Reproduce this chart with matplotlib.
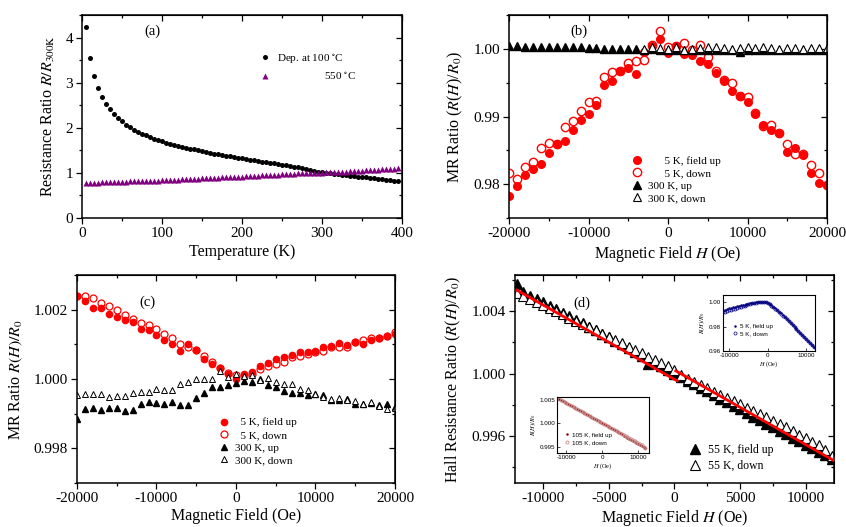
import numpy as np
import matplotlib
matplotlib.use('Agg')
import matplotlib.pyplot as plt
from matplotlib.ticker import MultipleLocator, FormatStrFormatter, NullFormatter

plt.rcParams['font.family'] = ['Liberation Serif', 'DejaVu Serif']
plt.rcParams['mathtext.fontset'] = 'stix'
plt.rcParams['axes.unicode_minus'] = False

# ---- (a) R(T)/R(300K) ----
T = np.arange(5, 400, 5)
R_100C = [4.23, 3.55, 3.15, 2.88, 2.68, 2.53, 2.41, 2.30, 2.22, 2.14,
          2.07, 2.01, 1.96, 1.91, 1.87, 1.83, 1.79, 1.76, 1.73, 1.70,
          1.67, 1.65, 1.62, 1.60, 1.58, 1.56, 1.54, 1.52, 1.50, 1.48,
          1.46, 1.45, 1.43, 1.41, 1.40, 1.38, 1.37, 1.35, 1.34, 1.32,
          1.31, 1.29, 1.28, 1.27, 1.25, 1.24, 1.22, 1.21, 1.20, 1.18,
          1.17, 1.15, 1.14, 1.12, 1.11, 1.09, 1.07, 1.05, 1.03, 1.01,
          1.00, 0.99, 0.98, 0.97, 0.96, 0.95, 0.94, 0.93, 0.92, 0.91,
          0.90, 0.89, 0.88, 0.87, 0.86, 0.85, 0.84, 0.83, 0.81]
R_550C = [0.78, 0.78, 0.78, 0.78, 0.79, 0.79, 0.79, 0.79, 0.80, 0.80,
          0.80, 0.81, 0.81, 0.81, 0.82, 0.82, 0.82, 0.83, 0.83, 0.84,
          0.84, 0.84, 0.85, 0.85, 0.86, 0.86, 0.86, 0.87, 0.87, 0.88,
          0.88, 0.89, 0.89, 0.89, 0.90, 0.90, 0.91, 0.91, 0.92, 0.92,
          0.93, 0.93, 0.94, 0.94, 0.95, 0.95, 0.95, 0.96, 0.96, 0.97,
          0.97, 0.98, 0.98, 0.99, 0.99, 0.99, 1.00, 1.00, 1.00, 1.00,
          1.01, 1.01, 1.02, 1.02, 1.03, 1.03, 1.04, 1.04, 1.05, 1.05,
          1.06, 1.06, 1.07, 1.07, 1.08, 1.08, 1.09, 1.09, 1.10]

# ---- (b) MR, 100 C film ----
Hb = np.arange(-20000, 20001, 1000)
b_5K_up = [0.9783, 0.9797, 0.9814, 0.9823, 0.9830, 0.9846, 0.9860, 0.9864, 0.9880, 0.9895,
           0.9904, 0.9917, 0.9946, 0.9953, 0.9968, 0.9972, 0.9963, 0.9995, 1.0004, 1.0015,
           0.9994, 1.0004, 0.9992, 0.9991, 0.9982, 0.9977, 0.9964, 0.9952, 0.9938, 0.9930,
           0.9921, 0.9904, 0.9887, 0.9880, 0.9875, 0.9847, 0.9853, 0.9843, 0.9816, 0.9802, 0.9799]
b_5K_down = [0.9816, 0.9808, 0.9825, 0.9833, 0.9853, 0.9861, 0.9860, 0.9884, 0.9894, 0.9908,
             0.9921, 0.9923, 0.9959, 0.9966, 0.9968, 0.9979, 0.9982, 0.9983, 1.0005, 1.0026,
             1.0003, 1.0004, 1.0008, 0.9998, 1.0006, 0.9988, 0.9968, 0.9954, 0.9949, 0.9930,
             0.9929, 0.9905, 0.9886, 0.9887, 0.9876, 0.9859, 0.9844, 0.9844, 0.9829, 0.9817, 0.9799]
b_300K_up = [1.0004, 1.0004, 1.0003, 1.0003, 1.0002, 1.0003, 1.0003, 1.0002, 1.0002, 1.0002,
             1.0001, 1.0001, 1.0000, 1.0000, 1.0000, 1.0000, 1.0000, 0.9999, 1.0000, 0.9999,
             0.9999, 0.9999, 0.9998, 0.9998, 0.9998, 0.9998, 0.9999, 0.9998, 0.9998, 0.9995,
             0.9998, 0.9998, 0.9998, 0.9999, 0.9998, 0.9998, 0.9998, 0.9998, 0.9998, 0.9998, 0.9999]
Hb_down300 = np.arange(-3000, 20001, 1000)
b_300K_down = [1.0000, 1.0003, 1.0001, 1.0000, 1.0002, 0.9999, 1.0000, 1.0001, 1.0003, 1.0002,
               1.0001, 1.0000, 1.0001, 1.0002, 1.0001, 1.0002, 1.0001, 1.0000, 1.0001, 1.0001,
               1.0000, 1.0001, 1.0001, 1.0001]

# ---- (c) MR, 550 C film ----
Hc = np.arange(-20000, 20001, 1000)
c_5K_up = [1.00239, 1.00224, 1.00205, 1.00206, 1.00187, 1.00179, 1.00171, 1.00164, 1.00143, 1.00141,
           1.00127, 1.00113, 1.00102, 1.00080, 1.00100, 1.00083, 1.00057, 1.00044, 1.00032, 1.00013,
           0.99999, 1.00013, 1.00020, 1.00037, 1.00047, 1.00057, 1.00064, 1.00069, 1.00077, 1.00077,
           1.00080, 1.00091, 1.00096, 1.00103, 1.00099, 1.00108, 1.00101, 1.00113, 1.00119, 1.00125, 1.00131]
c_5K_down = [1.00239, 1.00239, 1.00234, 1.00220, 1.00211, 1.00199, 1.00186, 1.00173, 1.00162, 1.00156,
             1.00145, 1.00131, 1.00119, 1.00101, 1.00093, 1.00085, 1.00067, 1.00050, 1.00032, 1.00018,
             1.00011, 1.00008, 1.00013, 1.00028, 1.00037, 1.00042, 1.00049, 1.00062, 1.00066, 1.00072,
             1.00078, 1.00082, 1.00093, 1.00093, 1.00093, 1.00107, 1.00113, 1.00117, 1.00119, 1.00125, 1.00135]
c_300K_up = [0.99885, 0.99913, 0.99915, 0.99910, 0.99916, 0.99915, 0.99908, 0.99910, 0.99927, 0.99934,
             0.99931, 0.99927, 0.99934, 0.99924, 0.99926, 0.99944, 0.99959, 0.99976, 0.99978, 0.99983,
             0.99988, 0.99993, 0.99990, 1.00000, 0.99982, 0.99976, 0.99964, 0.99961, 0.99961, 0.99954,
             0.99956, 0.99954, 0.99939, 0.99939, 0.99941, 0.99927, 0.99927, 0.99931, 0.99924, 0.99927, 0.99919]
c_300K_down = [0.99954, 0.99956, 0.99956, 0.99956, 0.99949, 0.99951, 0.99952, 0.99959, 0.99962, 0.99962,
               0.99971, 0.99969, 0.99969, 0.99986, 0.99990, 1.00000, 1.00000, 1.00000, 1.00023, 1.00006,
               1.00015, 1.00008, 1.00011, 0.99998, 1.00003, 0.99991, 0.99985, 0.99985, 0.99971, 0.99967,
               0.99956, 0.99948, 0.99942, 0.99946, 0.99939, 0.99936, 0.99929, 0.99934, 0.99922, 0.99912, 0.99917]

# ---- (d) Hall, 55 K ----
Hd = np.arange(-12000, 12001, 500)
d_55K_up = [1.00575, 1.00520, 1.00495, 1.00478, 1.00455, 1.00432, 1.00410, 1.00388, 1.00365, 1.00345,
            1.00322, 1.00300, 1.00278, 1.00255, 1.00232, 1.00210, 1.00188, 1.00165, 1.00140, 1.00115,
            1.00062, 1.00068, 1.00045, 1.00022, 1.00000, 0.99978, 0.99955, 0.99932, 0.99908, 0.99886,
            0.99862, 0.99840, 0.99815, 0.99795, 0.99770, 0.99748, 0.99725, 0.99702, 0.99680, 0.99658,
            0.99635, 0.99612, 0.99590, 0.99568, 0.99545, 0.99522, 0.99500, 0.99478, 0.99455]
d_55K_down = [1.00512, 1.00495, 1.00478, 1.00458, 1.00438, 1.00418, 1.00398, 1.00378, 1.00358, 1.00338,
              1.00318, 1.00298, 1.00276, 1.00255, 1.00235, 1.00215, 1.00195, 1.00172, 1.00150, 1.00128,
              1.00105, 1.00085, 1.00065, 1.00045, 1.00020, 0.99990, 0.99968, 0.99948, 0.99928, 0.99908,
              0.99885, 0.99865, 0.99845, 0.99825, 0.99805, 0.99782, 0.99762, 0.99740, 0.99720, 0.99698,
              0.99675, 0.99655, 0.99632, 0.99610, 0.99590, 0.99565, 0.99540, 0.99512, 0.99470]
fit1_H = [-12000, 200]
fit1_R = [1.00533, 0.99953]
fit2_H = [100, 12100]
fit2_R = [1.00017, 0.99445]

# inset: 5 K Hall
Hi1 = np.arange(-11500, 12001, 500)
i1_up = [0.9935, 0.9940, 0.9945, 0.9950, 0.9955, 0.9958, 0.9962, 0.9966, 0.9970, 0.9974,
         0.9978, 0.9981, 0.9985, 0.9988, 0.9991, 0.9994, 0.9997, 0.9999, 1.0001, 1.0002,
         1.0003, 1.0003, 1.0002, 0.9995, 0.9985, 0.9975, 0.9963, 0.9950, 0.9937, 0.9923,
         0.9908, 0.9893, 0.9878, 0.9862, 0.9846, 0.9830, 0.9814, 0.9797, 0.9781, 0.9764,
         0.9748, 0.9731, 0.9715, 0.9698, 0.9682, 0.9666, 0.9650, 0.9635]
i1_down = [0.9918, 0.9923, 0.9928, 0.9933, 0.9938, 0.9943, 0.9948, 0.9953, 0.9958, 0.9963,
           0.9968, 0.9973, 0.9977, 0.9982, 0.9986, 0.9990, 0.9994, 0.9997, 1.0000, 1.0002,
           1.0003, 1.0002, 1.0000, 0.9993, 0.9983, 0.9972, 0.9960, 0.9947, 0.9934, 0.9920,
           0.9905, 0.9890, 0.9875, 0.9859, 0.9843, 0.9827, 0.9811, 0.9795, 0.9778, 0.9762,
           0.9745, 0.9729, 0.9712, 0.9696, 0.9680, 0.9664, 0.9648, 0.9633]

# inset: 105 K Hall
Hi2 = np.arange(-12000, 12001, 500)
i2_up = [1.00530, 1.00508, 1.00486, 1.00464, 1.00442, 1.00420, 1.00398, 1.00376, 1.00354, 1.00332,
         1.00310, 1.00288, 1.00266, 1.00244, 1.00222, 1.00200, 1.00178, 1.00156, 1.00134, 1.00112,
         1.00090, 1.00068, 1.00046, 1.00024, 1.00002, 0.99980, 0.99958, 0.99936, 0.99914, 0.99892,
         0.99870, 0.99848, 0.99826, 0.99804, 0.99782, 0.99760, 0.99738, 0.99716, 0.99694, 0.99672,
         0.99650, 0.99628, 0.99606, 0.99584, 0.99562, 0.99540, 0.99518, 0.99496, 0.99474]
i2_down = [1.00520, 1.00502, 1.00482, 1.00462, 1.00443, 1.00423, 1.00402, 1.00382, 1.00361, 1.00340,
           1.00320, 1.00298, 1.00277, 1.00256, 1.00234, 1.00213, 1.00191, 1.00169, 1.00147, 1.00125,
           1.00103, 1.00081, 1.00059, 1.00037, 1.00015, 0.99993, 0.99971, 0.99948, 0.99926, 0.99904,
           0.99882, 0.99860, 0.99837, 0.99815, 0.99793, 0.99770, 0.99748, 0.99726, 0.99703, 0.99681,
           0.99658, 0.99636, 0.99613, 0.99591, 0.99568, 0.99546, 0.99523, 0.99500, 0.99478]


def style(ax, xmaj, xmin, ymaj, ymin, yfmt=None, size=11, L=4):
    ax.xaxis.set_major_locator(MultipleLocator(xmaj))
    ax.xaxis.set_minor_locator(MultipleLocator(xmin))
    ax.yaxis.set_major_locator(MultipleLocator(ymaj))
    ax.yaxis.set_minor_locator(MultipleLocator(ymin))
    if yfmt:
        ax.yaxis.set_major_formatter(FormatStrFormatter(yfmt))
    ax.tick_params(which='both', direction='out', labelsize=size, width=0.9, pad=2.5)
    ax.tick_params(which='major', length=L)
    ax.tick_params(which='minor', length=L * 0.6)
    for s in ax.spines.values():
        s.set_linewidth(1.1)
    sx = ax.secondary_xaxis('top')
    sx.xaxis.set_major_locator(MultipleLocator(xmaj))
    sx.xaxis.set_minor_locator(MultipleLocator(xmin))
    sx.xaxis.set_major_formatter(NullFormatter())
    sx.tick_params(which='both', direction='in', width=0.9)
    sx.tick_params(which='major', length=L)
    sx.tick_params(which='minor', length=L * 0.6)
    sy = ax.secondary_yaxis('right')
    sy.yaxis.set_major_locator(MultipleLocator(ymaj))
    sy.yaxis.set_minor_locator(MultipleLocator(ymin))
    sy.yaxis.set_major_formatter(NullFormatter())
    sy.tick_params(which='both', direction='in', width=0.9)
    sy.tick_params(which='major', length=L)
    sy.tick_params(which='minor', length=L * 0.6)


fig = plt.figure(figsize=(8.46, 5.27), dpi=100)

# (a)
ax = fig.add_axes([0.0969, 0.5863, 0.3783, 0.3852])
ax.plot(T, R_100C, 'o', color='black', ms=3.6, mec='none', label=r'Dep. at 100 $^{\circ}$C')
ax.plot(T, R_550C, '^', color='#800080', ms=4.2, mec='none', label=r'                 550 $^{\circ}$C')
ax.set_xlim(0, 400)
ax.set_ylim(0, 4.5)
style(ax, 100, 50, 1, 0.5)
ax.set_xlabel('Temperature (K)', fontsize=11.5, labelpad=3)
ax.set_ylabel(r'Resistance Ratio $R/R_{\rm 300K}$', fontsize=11.5, labelpad=6)
ax.text(0.22, 0.92, '(a)', transform=ax.transAxes, fontsize=10.5, ha='center', va='center')
ax.legend(loc='upper left', bbox_to_anchor=(0.54, 0.84), frameon=False, fontsize=8,
          handletextpad=0.6, labelspacing=0.45, handlelength=1.0, borderaxespad=0)

# (b)
ax = fig.add_axes([0.6017, 0.5863, 0.3759, 0.3852])
ax.plot(Hb, b_5K_up, 'o', color='red', ms=5.5, mec='red', label='      5 K, field up')
ax.plot(Hb, b_5K_down, 'o', mfc='none', mec='red', ms=6, mew=1.0, label='      5 K, down')
ax.plot(Hb, b_300K_up, '^', color='black', ms=5.5, label='300 K, up')
ax.plot(Hb_down300, b_300K_down, '^', mfc='white', mec='black', ms=6, mew=0.8, label='300 K, down')
ax.set_xlim(-20000, 20000)
ax.set_ylim(0.975, 1.005)
style(ax, 10000, 5000, 0.01, 0.005, '%.2f')
ax.set_xlabel(r'Magnetic Field $H$ (Oe)', fontsize=11.5, labelpad=3)
ax.set_ylabel(r'MR Ratio ($R$($H$)/$R_0$)', fontsize=11.5, labelpad=6)
ax.text(0.22, 0.92, '(b)', transform=ax.transAxes, fontsize=10.5, ha='center', va='center')
ax.legend(loc='center left', bbox_to_anchor=(0.37, 0.19), frameon=False, fontsize=8,
          handletextpad=0.5, labelspacing=0.25, handlelength=1.0, borderaxespad=0)

# (c)
ax = fig.add_axes([0.0910, 0.0835, 0.3759, 0.3947])
ax.plot(Hc, c_5K_up, 'o', color='red', ms=4.5, mec='red', label='  5 K, field up')
ax.plot(Hc, c_5K_down, 'o', mfc='none', mec='red', ms=5, mew=0.9, label='  5 K, down')
ax.plot(Hc, c_300K_up, '^', color='black', ms=5, label='300 K, up')
ax.plot(Hc, c_300K_down, '^', mfc='white', mec='black', ms=5, mew=0.7, label='300 K, down')
ax.set_xlim(-20000, 20000)
ax.set_ylim(0.997, 1.003)
style(ax, 10000, 5000, 0.002, 0.001, '%.3f')
ax.set_xlabel('Magnetic Field (Oe)', fontsize=11.5, labelpad=2)
ax.set_ylabel(r'MR Ratio $R(H)/R_0$', fontsize=11.5, labelpad=6)
ax.text(0.22, 0.87, '(c)', transform=ax.transAxes, fontsize=10.5, ha='center', va='center')
ax.legend(loc='center left', bbox_to_anchor=(0.43, 0.20), frameon=False, fontsize=8,
          handletextpad=0.5, labelspacing=0.25, handlelength=1.0, borderaxespad=0)

# (d)
ax = fig.add_axes([0.6087, 0.0835, 0.3771, 0.3947])
ax.plot(Hd, d_55K_up, '^', color='black', ms=7, label='55 K, field up')
ax.plot(Hd, d_55K_down, '^', mfc='white', mec='black', ms=7.5, mew=0.8, label='55 K, down')
ax.plot(fit1_H, fit1_R, '-', color='red', lw=2, zorder=5)
ax.plot(fit2_H, fit2_R, '-', color='red', lw=2, zorder=5)
ax.set_xlim(-12150, 12150)
ax.set_ylim(0.993, 1.0063)
style(ax, 5000, 2500, 0.004, 0.002, '%.3f')
ax.set_xlabel(r'Magnetic Field $H$ (Oe)', fontsize=11.5, labelpad=2)
ax.set_ylabel(r'Hall Resistance Ratio ($R$($H$)/$R_0$)', fontsize=11.5, labelpad=6)
ax.text(0.21, 0.865, '(d)', transform=ax.transAxes, fontsize=10.5, ha='center', va='center')
ax.legend(loc='center left', bbox_to_anchor=(0.53, 0.12), frameon=False, fontsize=8.5,
          handletextpad=0.6, labelspacing=0.3, handlelength=1.0, borderaxespad=0)

# inset 5 K
sans = ['Liberation Sans', 'DejaVu Sans']
ia = fig.add_axes([0.8546, 0.3340, 0.1087, 0.1063])
ia.plot(Hi1, i1_up, 'o', color='#000080', ms=1.8, mec='none', label='5 K, field up')
ia.plot(Hi1, i1_down, 'o', mfc='none', mec='#000080', ms=2.2, mew=0.5, label='5 K, down')
ia.set_xlim(-11600, 12300)
ia.set_ylim(0.96, 1.006)
ia.xaxis.set_major_locator(MultipleLocator(10000))
ia.yaxis.set_major_locator(MultipleLocator(0.02))
ia.yaxis.set_major_formatter(FormatStrFormatter('%.2f'))
ia.tick_params(direction='in', labelsize=4.5, length=2, width=0.5, pad=1.5)
for t in ia.get_xticklabels() + ia.get_yticklabels():
    t.set_family(sans)
ia.set_xlabel(r'$H$ (Oe)', fontsize=4.5, labelpad=1)
ia.set_ylabel(r'$R(H)/R_0$', fontsize=4.5, labelpad=1)
ia.legend(loc='lower left', bbox_to_anchor=(0.08, 0.22), frameon=False,
          handletextpad=0.4, labelspacing=0.3, handlelength=0.8, borderaxespad=0,
          prop={'family': sans, 'size': 4.5})

# inset 105 K
ib = fig.add_axes([0.6584, 0.1404, 0.1087, 0.1063])
ib.plot(Hi2, i2_up, 'o', color='#8b0000', ms=1.8, mec='none', label='105 K, field up')
ib.plot(Hi2, i2_down, 'o', mfc='none', mec='#c88a8a', ms=2.2, mew=0.6, label='105 K, down')
ib.set_xlim(-12600, 13000)
ib.set_ylim(0.9936, 1.0057)
ib.xaxis.set_major_locator(MultipleLocator(10000))
ib.yaxis.set_major_locator(MultipleLocator(0.005))
ib.yaxis.set_major_formatter(FormatStrFormatter('%.3f'))
ib.tick_params(direction='in', labelsize=4.5, length=2, width=0.5, pad=1.5)
for t in ib.get_xticklabels() + ib.get_yticklabels():
    t.set_family(sans)
ib.set_xlabel(r'$H$ (Oe)', fontsize=4.5, labelpad=1)
ib.set_ylabel(r'$R(H)/R_0$', fontsize=4.5, labelpad=1)
ib.legend(loc='lower left', bbox_to_anchor=(0.05, 0.1), frameon=False,
          handletextpad=0.4, labelspacing=0.3, handlelength=0.8, borderaxespad=0,
          prop={'family': sans, 'size': 4.5})

fig.savefig('out.png', dpi=100)
